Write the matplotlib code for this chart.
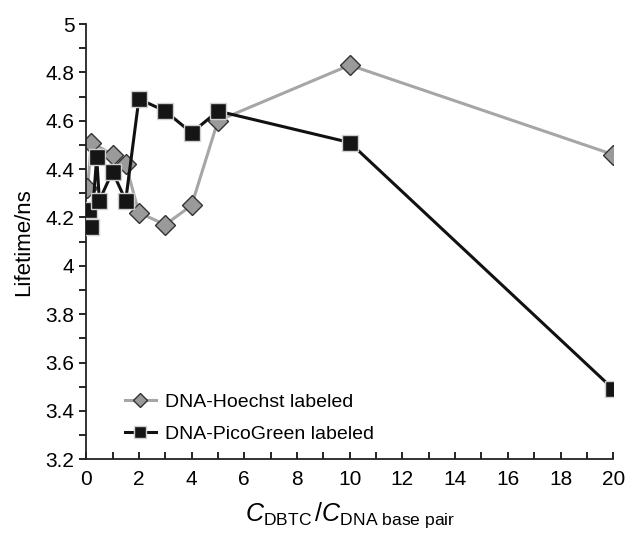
import numpy as np
import matplotlib
matplotlib.use('Agg')
import matplotlib.pyplot as plt
from matplotlib.ticker import MultipleLocator

plt.rcParams['font.family'] = ['Liberation Sans', 'DejaVu Sans']
plt.rcParams['mathtext.fontset'] = 'custom'
plt.rcParams['mathtext.rm'] = 'Liberation Sans'
plt.rcParams['mathtext.it'] = 'Liberation Sans:italic'

# lifetime vs concentration ratio
hoechst_x = [0.05, 0.2, 1.0, 1.5, 2, 3, 4, 5, 10, 20]
hoechst_y = [4.32, 4.51, 4.46, 4.42, 4.22, 4.17, 4.25, 4.60, 4.83, 4.46]

pico_x = [0.02, 0.1, 0.2, 0.4, 0.5, 1.0, 1.5, 2, 3, 4, 5, 10, 20]
pico_y = [4.21, 4.23, 4.16, 4.45, 4.27, 4.39, 4.27, 4.69, 4.64, 4.55, 4.64, 4.51, 3.49]

fig = plt.figure(figsize=(6.29, 5.34), dpi=100)
ax = fig.add_axes([0.137, 0.140, 0.838, 0.815])

ax.plot(hoechst_x, hoechst_y, color='#a6a6a6', lw=2.2, marker='D', ms=10,
        mfc='#9a9a9a', mec='#333333', mew=1.0, label='DNA-Hoechst labeled', zorder=2)
ax.plot(pico_x, pico_y, color='#111111', lw=2.2, marker='s', ms=11.5,
        mfc='#151515', mec='#d0d0d0', mew=1.0, label='DNA-PicoGreen labeled', zorder=3)

ax.set_xlim(0, 20)
ax.set_ylim(3.2, 5.0)
ax.xaxis.set_major_locator(MultipleLocator(2))
ax.xaxis.set_minor_locator(MultipleLocator(1))
ax.yaxis.set_major_locator(MultipleLocator(0.2))
ax.yaxis.set_minor_locator(MultipleLocator(0.1))
ax.set_yticklabels([('%g' % v) for v in ax.get_yticks()])

for s in ['top', 'right']:
    ax.spines[s].set_visible(False)
for s in ['left', 'bottom']:
    ax.spines[s].set_linewidth(1.3)
    ax.spines[s].set_color('#222222')

ax.tick_params(axis='x', which='both', direction='in', length=5, width=1.2, labelsize=15, pad=8)
ax.tick_params(axis='y', which='both', direction='out', length=5, width=1.2, labelsize=15)

ax.set_ylabel('Lifetime/ns', fontsize=16, labelpad=8)
ax.set_xlabel(r'$C_{\mathrm{DBTC}}\,/C_{\mathrm{DNA\ base\ pair}}$', fontsize=18, labelpad=8)

ax.legend(loc='lower left', bbox_to_anchor=(0.04, -0.003), frameon=False, fontsize=14,
          handlelength=1.6, handletextpad=0.45, labelspacing=0.75, markerscale=0.7)

fig.savefig('out.png', dpi=100)
